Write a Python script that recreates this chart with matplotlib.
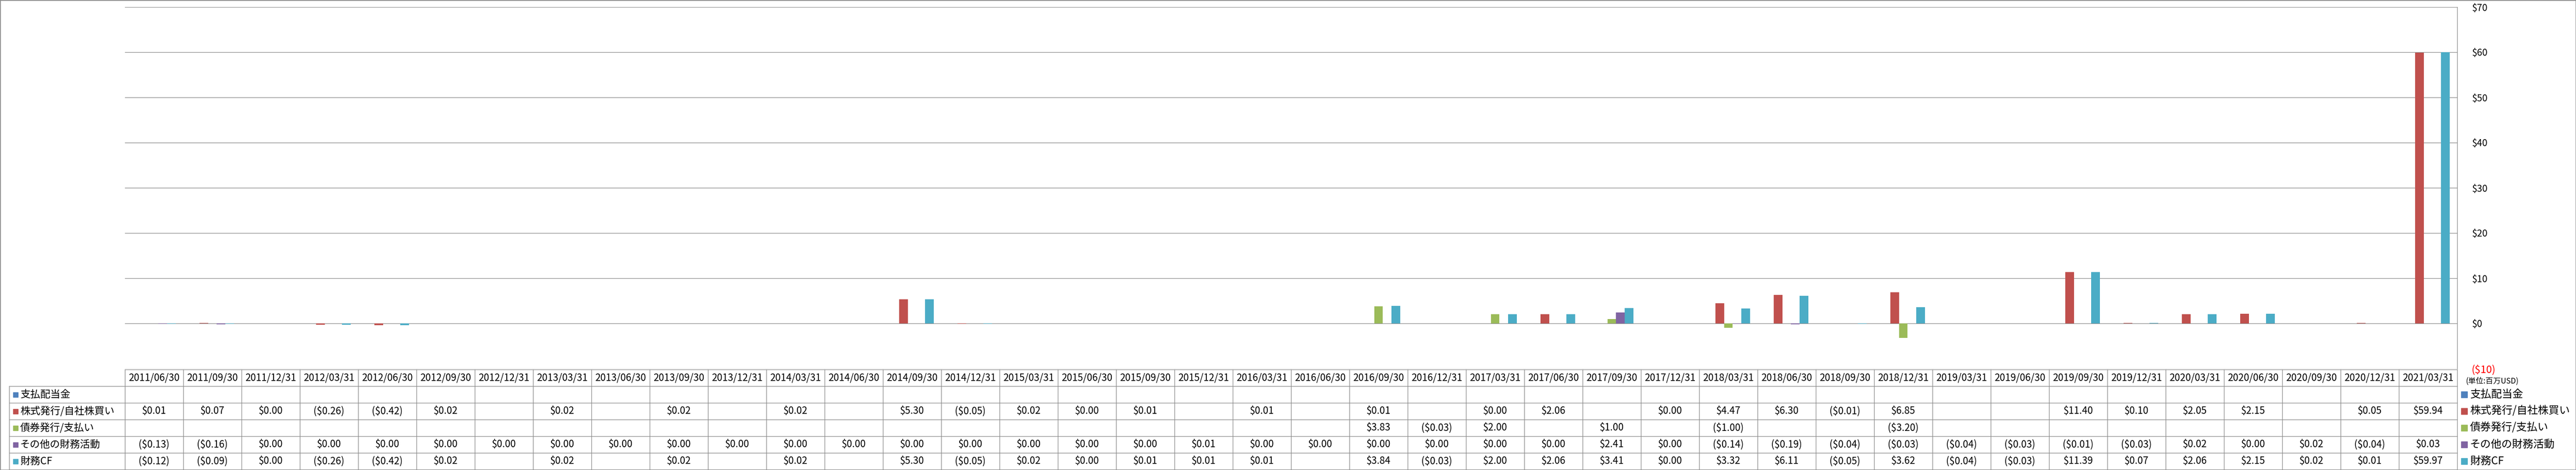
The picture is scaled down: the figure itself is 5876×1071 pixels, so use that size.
import matplotlib
matplotlib.use('Agg')
import matplotlib.pyplot as plt
from matplotlib.patches import Rectangle

plt.rcParams['font.family'] = ['Noto Sans CJK JP', 'DejaVu Sans']

# ---------------- data ----------------
dates = ['2011/06/30', '2011/09/30', '2011/12/31', '2012/03/31', '2012/06/30', '2012/09/30',
         '2012/12/31', '2013/03/31', '2013/06/30', '2013/09/30', '2013/12/31', '2014/03/31',
         '2014/06/30', '2014/09/30', '2014/12/31', '2015/03/31', '2015/06/30', '2015/09/30',
         '2015/12/31', '2016/03/31', '2016/06/30', '2016/09/30', '2016/12/31', '2017/03/31',
         '2017/06/30', '2017/09/30', '2017/12/31', '2018/03/31', '2018/06/30', '2018/09/30',
         '2018/12/31', '2019/03/31', '2019/06/30', '2019/09/30', '2019/12/31', '2020/03/31',
         '2020/06/30', '2020/09/30', '2020/12/31', '2021/03/31']

series_names = ['支払配当金', '株式発行/自社株買い', '債券発行/支払い', 'その他の財務活動', '財務CF']

N = None
dividends = [N] * 40
stock = [0.01, 0.07, 0.00, -0.26, -0.42, 0.02, N, 0.02, N, 0.02, N, 0.02, N, 5.30, -0.05, 0.02,
         0.00, 0.01, N, 0.01, N, 0.01, N, 0.00, 2.06, N, 0.00, 4.47, 6.30, -0.01, 6.85, N, N,
         11.40, 0.10, 2.05, 2.15, N, 0.05, 59.94]
debt = [N, N, N, N, N, N, N, N, N, N, N, N, N, N, N, N, N, N, N, N, N, 3.83, -0.03, 2.00, N,
        1.00, N, -1.00, N, N, -3.20, N, N, N, N, N, N, N, N, N]
other = [-0.13, -0.16, 0.00, 0.00, 0.00, 0.00, 0.00, 0.00, 0.00, 0.00, 0.00, 0.00, 0.00, 0.00,
         0.00, 0.00, 0.00, 0.00, 0.01, 0.00, 0.00, 0.00, 0.00, 0.00, 0.00, 2.41, 0.00, -0.14,
         -0.19, -0.04, -0.03, -0.04, -0.03, -0.01, -0.03, 0.02, 0.00, 0.02, -0.04, 0.03]
fin_cf = [-0.12, -0.09, 0.00, -0.26, -0.42, 0.02, N, 0.02, N, 0.02, N, 0.02, N, 5.30, -0.05,
          0.02, 0.00, 0.01, 0.01, 0.01, N, 3.84, -0.03, 2.00, 2.06, 3.41, 0.00, 3.32, 6.11,
          -0.05, 3.62, -0.04, -0.03, 11.39, 0.07, 2.06, 2.15, 0.02, 0.01, 59.97]

colors = ['#4F81BD', '#C0504D', '#9BBB59', '#8064A2', '#4BACC6']
y_ticks = [-10, 0, 10, 20, 30, 40, 50, 60, 70]
unit_label = '(単位:百万USD)'

# ---------------- layout ----------------
W, H = 5876, 1071
fig = plt.figure(figsize=(W / 100, H / 100), dpi=100)
gc = '#8C8C8C'


def fx(px):
    return px / W


def fy(py):
    return 1 - py / H


PL, PR, PT, PB = 285, 5605, 16, 840
TB_TOP, TB_BOT, TB_LEFT = 842, 1070, 21
n = len(dates)
unit = (PR - PL) / n

ax = fig.add_axes([fx(PL), fy(PB), (PR - PL) / W, (PB - PT) / H])

series = [dividends, stock, debt, other, fin_cf]
bw = 0.15
for k, (vals, c) in enumerate(zip(series, colors)):
    xs = [i + (k - 2) * bw for i, v in enumerate(vals) if v is not None]
    hs = [v for v in vals if v is not None]
    if xs:
        ax.bar(xs, hs, width=bw, color=c, linewidth=0, zorder=3)

ax.set_xlim(-0.5, n - 0.5)
ax.set_ylim(-10, 70)
ax.set_yticks(y_ticks)
ax.set_yticklabels([('$%d' % v) if v >= 0 else ('($%d)' % -v) for v in y_ticks])
ax.yaxis.tick_right()
ax.tick_params(axis='y', length=0, pad=24, labelsize=15.5)
ax.get_yticklabels()[0].set_color('#FF0000')
ax.get_yticklabels()[0].set_fontsize(17)
ax.set_xticks([])
for s in ['left', 'top', 'bottom']:
    ax.spines[s].set_visible(False)
ax.spines['right'].set_color(gc)
ax.spines['right'].set_linewidth(1.0)
ax.grid(axis='y', color=gc, linewidth=1.0, zorder=0)
ax.set_axisbelow(True)

# ---------------- data table ----------------
tax = fig.add_axes([fx(TB_LEFT), fy(TB_BOT), (PR - TB_LEFT) / W, (TB_BOT - TB_TOP) / H])
xmin = -0.5 - (PL - TB_LEFT) / unit
tax.set_xlim(xmin, n - 0.5)
tax.set_ylim(6, 0)
tax.axis('off')

lkw = dict(color=gc, linewidth=1.0, clip_on=False)
tax.plot([-0.5, n - 0.5], [0, 0], **lkw)
for r in range(1, 7):
    tax.plot([xmin, n - 0.5], [r, r], **lkw)
for i in range(n + 1):
    tax.plot([i - 0.5, i - 0.5], [0, 6], **lkw)
tax.plot([xmin, xmin], [1, 6], **lkw)


def fmt(v):
    if v is None:
        return ''
    if v < 0:
        return '($%.2f)' % (-v)
    return '$%.2f' % v


for i, d in enumerate(dates):
    tax.text(i, 0.5, d, ha='center', va='center', fontsize=16)

row_h = (TB_BOT - TB_TOP) / 6
for r, (name, vals, c) in enumerate(zip(series_names, series, colors)):
    yc = r + 1.5
    sq_w = 11 / unit
    sq_h = 11 / row_h
    tax.add_patch(Rectangle((xmin + 9 / unit, yc - sq_h / 2), sq_w, sq_h, color=c,
                            clip_on=False))
    tax.text(xmin + 25 / unit, yc, name, ha='left', va='center', fontsize=16.5)
    for i, v in enumerate(vals):
        s = fmt(v)
        if s:
            tax.text(i, yc, s, ha='center', va='center', fontsize=16)

# ---------------- right-side legend ----------------
for r, (name, c) in enumerate(zip(series_names, colors)):
    yc = TB_TOP + row_h * (r + 1.5)
    fig.add_artist(Rectangle((fx(5614), fy(yc + 7)), 14 / W, 14 / H,
                             transform=fig.transFigure, color=c))
    fig.text(fx(5634), fy(yc), name, ha='left', va='center', fontsize=17.5)

fig.text(fx(5624), fy(868), unit_label, ha='left', va='center', fontsize=12.5)

# outer chart frame
fig.add_artist(Rectangle((0, 0), 1, 1, transform=fig.transFigure, fill=False,
                         edgecolor=gc, linewidth=2))

fig.savefig('out.png', dpi=100)
